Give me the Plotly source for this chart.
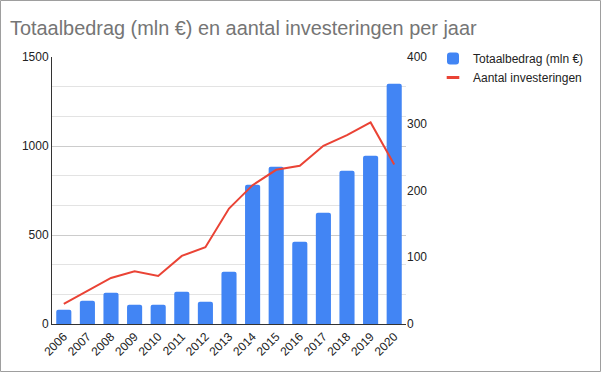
import plotly.graph_objects as go

years = [str(y) for y in range(2006, 2021)]
totaalbedrag = [80, 131, 176, 108, 108, 181, 125, 294, 783, 884, 462, 625, 861, 945, 1350]
aantal = [30, 50, 69, 79, 72, 102, 115, 173, 208, 231, 237, 267, 283, 302, 239]

W, H = 601, 372
L, R, T, B = 52, 195, 57, 48
pw, ph = W - L - R, H - T - B

BLUE = "#4285f4"
RED = "#ea4335"

fig = go.Figure()
fig.add_trace(go.Bar(x=years, y=totaalbedrag, name="Totaalbedrag (mln €)",
                     marker=dict(color=BLUE, line=dict(width=0), cornerradius=2),
                     yaxis="y", legendrank=1))
fig.add_trace(go.Scatter(x=years, y=aantal, name="Aantal investeringen", mode="lines",
                         line=dict(color=RED, width=2), yaxis="y2", showlegend=False))
# legend-only entry drawn as a short thick bar, like the original legend swatch
fig.add_trace(go.Scatter(x=[None], y=[None], name="Aantal investeringen", mode="markers",
                         marker=dict(symbol="line-ew", size=9,
                                     line=dict(color=RED, width=3)),
                         yaxis="y2", showlegend=True, legendrank=2))

fig.update_layout(
    width=W, height=H,
    margin=dict(l=L, r=R, t=T, b=B, autoexpand=False),
    paper_bgcolor="white", plot_bgcolor="white",
    font=dict(family="Liberation Sans, Arial", size=12, color="#222222"),
    title=dict(text="Totaalbedrag (mln €) en aantal investeringen per jaar",
               x=10 / W, xanchor="left", xref="container",
               y=1 - 28 / H, yanchor="middle", yref="container",
               font=dict(size=19.9, color="#757575")),
    bargap=0.36,
    showlegend=True,
    legend=dict(x=433 / W, xanchor="left", xref="container",
                y=1 - 44 / H, yanchor="top", yref="container",
                font=dict(size=12, color="#222222"), itemwidth=30,
                tracegroupgap=2, bgcolor="rgba(0,0,0,0)"),
    xaxis=dict(tickangle=-45, showgrid=False, showline=True, linecolor="#333333",
               linewidth=1, ticks="", automargin=False,
               tickfont=dict(size=12, color="#222222")),
    yaxis=dict(range=[0, 1500], tickvals=[0, 500, 1000, 1500], showgrid=True,
               gridcolor="#cccccc", gridwidth=1, showline=True, linecolor="#333333",
               linewidth=1, ticks="", zeroline=False, automargin=False,
               minor=dict(dtick=500 / 3, showgrid=True, gridcolor="#e3e3e3", gridwidth=1),
               tickfont=dict(size=12, color="#222222")),
    yaxis2=dict(range=[0, 400], tickvals=[0, 100, 200, 300, 400], overlaying="y",
                side="right", showgrid=False, showline=False, zeroline=False, ticks="",
                automargin=False, tickfont=dict(size=12, color="#222222")),
    shapes=[dict(type="rect", xref="paper", yref="paper",
                 x0=-(L - 0.5) / pw, x1=1 + (R - 0.5) / pw,
                 y0=-(B - 0.5) / ph, y1=1 + (T - 0.5) / ph,
                 line=dict(color="#9e9e9e", width=1), layer="below")],
)

fig.write_html("out.html", config={"displayModeBar": False},
               post_script="document.body.style.margin='0';document.body.style.padding='0';")
